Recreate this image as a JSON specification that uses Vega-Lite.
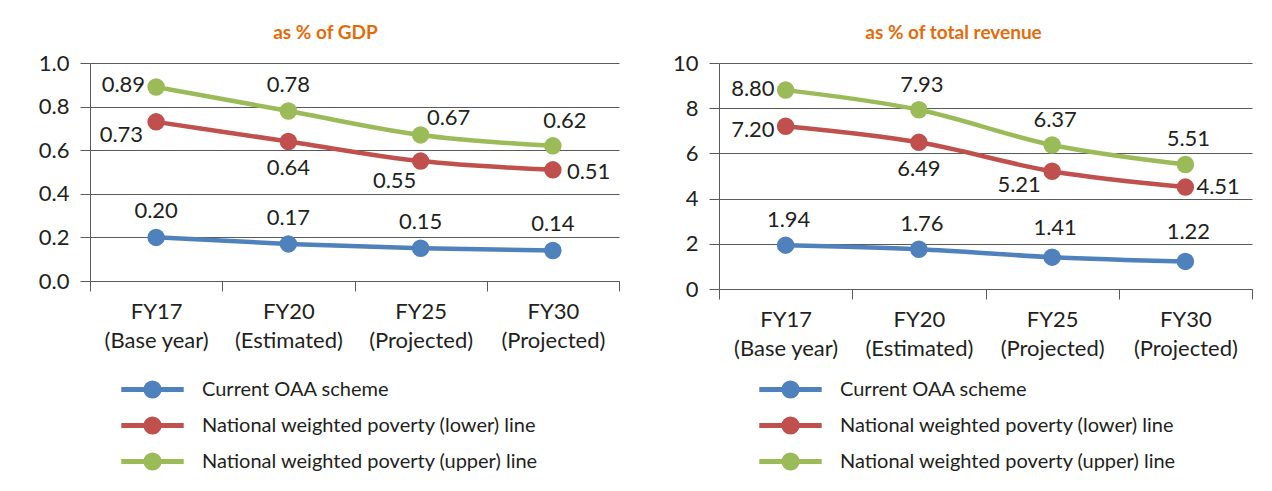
{
  "$schema": "https://vega.github.io/schema/vega-lite/v6.json",
  "background": "white",
  "padding": {"left": 38, "top": 24, "right": 0, "bottom": 0},
  "spacing": 49,
  "config": {
    "font": "Lato",
    "view": {"stroke": null},
    "axisY": {"grid": true, "gridColor": "#5a5a5a", "gridWidth": 1, "domainColor": "#5a5a5a", "tickColor": "#5a5a5a", "tickSize": 10, "labelPadding": 11, "labelFontSize": 22, "labelColor": "#231f20", "minExtent": 50, "maxExtent": 50, "title": null},
    "axisX": {"grid": false, "tickBand": "extent", "tickSize": 10, "labelAngle": 0, "labelFontSize": 22, "labelLineHeight": 29, "labelPadding": 10, "labelOverlap": false, "labelColor": "#231f20", "labelExpr": "[slice(datum.label,0,4), slice(datum.label,5)]", "title": null, "domainColor": "#5a5a5a", "tickColor": "#5a5a5a"},
    "legend": {"orient": "none", "direction": "vertical", "title": null, "symbolType": "M-2.6,0H2.6M0.55,0A0.55,0.55,0,1,1,-0.55,0A0.55,0.55,0,1,1,0.55,0Z", "symbolSize": 576, "symbolStrokeWidth": 5, "labelFontSize": 20, "labelColor": "#231f20", "rowPadding": 1, "labelOffset": 35, "symbolOffset": 0, "padding": 0, "labelLimit": 500},
    "title": {"fontSize": 19, "fontWeight": "bold", "color": "#E36C0A", "baseline": "alphabetic", "offset": 9, "anchor": "middle"}
  },
  "datasets": {
    "gdp": [
      {"year": "FY17 (Base year)", "series": "Current OAA scheme", "value": 0.20},
      {"year": "FY20 (Estimated)", "series": "Current OAA scheme", "value": 0.17},
      {"year": "FY25 (Projected)", "series": "Current OAA scheme", "value": 0.15},
      {"year": "FY30 (Projected)", "series": "Current OAA scheme", "value": 0.14},
      {"year": "FY17 (Base year)", "series": "National weighted poverty (lower) line", "value": 0.73},
      {"year": "FY20 (Estimated)", "series": "National weighted poverty (lower) line", "value": 0.64},
      {"year": "FY25 (Projected)", "series": "National weighted poverty (lower) line", "value": 0.55},
      {"year": "FY30 (Projected)", "series": "National weighted poverty (lower) line", "value": 0.51},
      {"year": "FY17 (Base year)", "series": "National weighted poverty (upper) line", "value": 0.89},
      {"year": "FY20 (Estimated)", "series": "National weighted poverty (upper) line", "value": 0.78},
      {"year": "FY25 (Projected)", "series": "National weighted poverty (upper) line", "value": 0.67},
      {"year": "FY30 (Projected)", "series": "National weighted poverty (upper) line", "value": 0.62}
    ],
    "rev": [
      {"year": "FY17 (Base year)", "series": "Current OAA scheme", "value": 1.94},
      {"year": "FY20 (Estimated)", "series": "Current OAA scheme", "value": 1.76},
      {"year": "FY25 (Projected)", "series": "Current OAA scheme", "value": 1.41},
      {"year": "FY30 (Projected)", "series": "Current OAA scheme", "value": 1.22},
      {"year": "FY17 (Base year)", "series": "National weighted poverty (lower) line", "value": 7.20},
      {"year": "FY20 (Estimated)", "series": "National weighted poverty (lower) line", "value": 6.49},
      {"year": "FY25 (Projected)", "series": "National weighted poverty (lower) line", "value": 5.21},
      {"year": "FY30 (Projected)", "series": "National weighted poverty (lower) line", "value": 4.51},
      {"year": "FY17 (Base year)", "series": "National weighted poverty (upper) line", "value": 8.80},
      {"year": "FY20 (Estimated)", "series": "National weighted poverty (upper) line", "value": 7.93},
      {"year": "FY25 (Projected)", "series": "National weighted poverty (upper) line", "value": 6.37},
      {"year": "FY30 (Projected)", "series": "National weighted poverty (upper) line", "value": 5.51}
    ]
  },
  "resolve": {"scale": {"color": "independent", "stroke": "independent", "y": "independent"}, "legend": {"color": "independent", "stroke": "independent"}},
  "hconcat": [
    {
      "width": 529,
      "height": 218,
      "title": {"text": "as % of GDP", "dx": -29},
      "data": {"name": "gdp"},
      "encoding": {
        "x": {"field": "year", "type": "nominal", "scale": {"type": "band", "paddingInner": 0, "paddingOuter": 0}},
        "y": {"field": "value", "type": "quantitative", "scale": {"domain": [0, 1]}, "axis": {"values": [0, 0.2, 0.4, 0.6, 0.8, 1.0], "format": ".1f"}},
        "color": {"field": "series", "type": "nominal", "scale": {"domain": ["Current OAA scheme", "National weighted poverty (lower) line", "National weighted poverty (upper) line"], "range": ["#4F81BD", "#C0504D", "#9BBB59"]}, "legend": {"legendX": 48, "legendY": 312}}
      },
      "layer": [
        {"mark": {"type": "line", "strokeWidth": 4.5, "interpolate": "monotone"}},
        {"mark": {"type": "point", "filled": true, "size": 240, "opacity": 1},
         "encoding": {"stroke": {"field": "series", "type": "nominal", "scale": {"domain": ["Current OAA scheme", "National weighted poverty (lower) line", "National weighted poverty (upper) line"], "range": ["#4F81BD", "#C0504D", "#9BBB59"]}, "legend": {"legendX": 48, "legendY": 312}}}},
        {"transform": [{"filter": "datum.series=='Current OAA scheme' || (indexof(datum.series,'upper')>0 && indexof(datum.year,'FY20')==0)"}],
         "mark": {"type": "text", "dy": -26, "fontSize": 22, "baseline": "middle"},
         "encoding": {"text": {"field": "value", "format": ".2f"}, "color": {"value": "#231f20"}}},
        {"transform": [{"filter": "indexof(datum.series,'upper')>0 && indexof(datum.year,'FY25')==0"}],
         "mark": {"type": "text", "dx": 28, "dy": -17, "fontSize": 22, "baseline": "middle"},
         "encoding": {"text": {"field": "value", "format": ".2f"}, "color": {"value": "#231f20"}}},
        {"transform": [{"filter": "indexof(datum.series,'upper')>0 && indexof(datum.year,'FY30')==0"}],
         "mark": {"type": "text", "dx": 12, "dy": -25, "fontSize": 22, "baseline": "middle"},
         "encoding": {"text": {"field": "value", "format": ".2f"}, "color": {"value": "#231f20"}}},
        {"transform": [{"filter": "indexof(datum.series,'upper')>0 && indexof(datum.year,'FY17')==0"}],
         "mark": {"type": "text", "align": "right", "dx": -11, "dy": -2, "fontSize": 22, "baseline": "middle"},
         "encoding": {"text": {"field": "value", "format": ".2f"}, "color": {"value": "#231f20"}}},
        {"transform": [{"filter": "indexof(datum.series,'lower')>0 && indexof(datum.year,'FY17')==0"}],
         "mark": {"type": "text", "align": "right", "dx": -13, "dy": 13, "fontSize": 22, "baseline": "middle"},
         "encoding": {"text": {"field": "value", "format": ".2f"}, "color": {"value": "#231f20"}}},
        {"transform": [{"filter": "indexof(datum.series,'lower')>0 && indexof(datum.year,'FY20')==0"}],
         "mark": {"type": "text", "dy": 27, "fontSize": 22, "baseline": "middle"},
         "encoding": {"text": {"field": "value", "format": ".2f"}, "color": {"value": "#231f20"}}},
        {"transform": [{"filter": "indexof(datum.series,'lower')>0 && indexof(datum.year,'FY25')==0"}],
         "mark": {"type": "text", "dx": -26, "dy": 20, "fontSize": 22, "baseline": "middle"},
         "encoding": {"text": {"field": "value", "format": ".2f"}, "color": {"value": "#231f20"}}},
        {"transform": [{"filter": "indexof(datum.series,'lower')>0 && indexof(datum.year,'FY30')==0"}],
         "mark": {"type": "text", "align": "left", "dx": 14, "dy": 2, "fontSize": 22, "baseline": "middle"},
         "encoding": {"text": {"field": "value", "format": ".2f"}, "color": {"value": "#231f20"}}}
      ]
    },
    {
      "width": 533,
      "height": 226,
      "title": {"text": "as % of total revenue", "dx": -32},
      "data": {"name": "rev"},
      "encoding": {
        "x": {"field": "year", "type": "nominal", "scale": {"type": "band", "paddingInner": 0, "paddingOuter": 0}},
        "y": {"field": "value", "type": "quantitative", "scale": {"domain": [0, 10]}, "axis": {"values": [0, 2, 4, 6, 8, 10], "format": "d"}},
        "color": {"field": "series", "type": "nominal", "scale": {"domain": ["Current OAA scheme", "National weighted poverty (lower) line", "National weighted poverty (upper) line"], "range": ["#4F81BD", "#C0504D", "#9BBB59"]}, "legend": {"legendX": 57, "legendY": 312}}
      },
      "layer": [
        {"mark": {"type": "line", "strokeWidth": 4.5, "interpolate": "monotone"}},
        {"mark": {"type": "point", "filled": true, "size": 240, "opacity": 1},
         "encoding": {"stroke": {"field": "series", "type": "nominal", "scale": {"domain": ["Current OAA scheme", "National weighted poverty (lower) line", "National weighted poverty (upper) line"], "range": ["#4F81BD", "#C0504D", "#9BBB59"]}, "legend": {"legendX": 57, "legendY": 312}}}},
        {"transform": [{"filter": "(indexof(datum.series,'upper')>0 && indexof(datum.year,'FY17')<0) || (datum.series=='Current OAA scheme' && (indexof(datum.year,'FY17')==0 || indexof(datum.year,'FY20')==0))"}],
         "mark": {"type": "text", "dx": 3, "dy": -25, "fontSize": 22, "baseline": "middle"},
         "encoding": {"text": {"field": "value", "format": ".2f"}, "color": {"value": "#231f20"}}},
        {"transform": [{"filter": "datum.series=='Current OAA scheme' && (indexof(datum.year,'FY25')==0 || indexof(datum.year,'FY30')==0)"}],
         "mark": {"type": "text", "dx": 3, "dy": -29, "fontSize": 22, "baseline": "middle"},
         "encoding": {"text": {"field": "value", "format": ".2f"}, "color": {"value": "#231f20"}}},
        {"transform": [{"filter": "indexof(datum.series,'upper')>0 && indexof(datum.year,'FY17')==0"}],
         "mark": {"type": "text", "align": "right", "dx": -11, "dy": -1, "fontSize": 22, "baseline": "middle"},
         "encoding": {"text": {"field": "value", "format": ".2f"}, "color": {"value": "#231f20"}}},
        {"transform": [{"filter": "indexof(datum.series,'lower')>0 && indexof(datum.year,'FY17')==0"}],
         "mark": {"type": "text", "align": "right", "dx": -11, "dy": 4, "fontSize": 22, "baseline": "middle"},
         "encoding": {"text": {"field": "value", "format": ".2f"}, "color": {"value": "#231f20"}}},
        {"transform": [{"filter": "indexof(datum.series,'lower')>0 && indexof(datum.year,'FY20')==0"}],
         "mark": {"type": "text", "dy": 27, "fontSize": 22, "baseline": "middle"},
         "encoding": {"text": {"field": "value", "format": ".2f"}, "color": {"value": "#231f20"}}},
        {"transform": [{"filter": "indexof(datum.series,'lower')>0 && indexof(datum.year,'FY25')==0"}],
         "mark": {"type": "text", "dx": -33, "dy": 14, "fontSize": 22, "baseline": "middle"},
         "encoding": {"text": {"field": "value", "format": ".2f"}, "color": {"value": "#231f20"}}},
        {"transform": [{"filter": "indexof(datum.series,'lower')>0 && indexof(datum.year,'FY30')==0"}],
         "mark": {"type": "text", "align": "left", "dx": 11, "dy": 0, "fontSize": 22, "baseline": "middle"},
         "encoding": {"text": {"field": "value", "format": ".2f"}, "color": {"value": "#231f20"}}}
      ]
    }
  ]
}
